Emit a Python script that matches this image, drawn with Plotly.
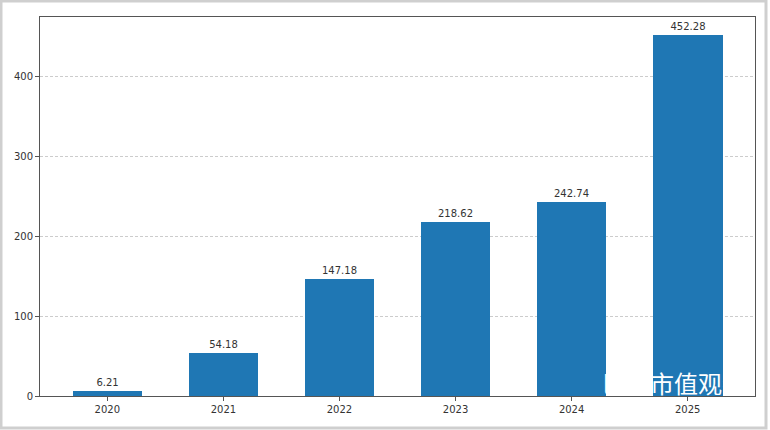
import plotly.graph_objects as go

years = ["2020", "2021", "2022", "2023", "2024", "2025"]
values = [6.21, 54.18, 147.18, 218.62, 242.74, 452.28]
value_labels = ["6.21", "54.18", "147.18", "218.62", "242.74", "452.28"]
y_ticks = [0, 100, 200, 300, 400]

fig = go.Figure()
fig.add_trace(go.Bar(
    x=list(range(len(years))), y=values, width=0.6,
    marker=dict(color="#1f77b4", line=dict(width=0)),
    text=value_labels, textposition="outside", cliponaxis=False,
    textfont=dict(size=10, color="#333333", family="DejaVu Sans"),
))

fig.update_layout(
    width=770, height=430,
    margin=dict(l=40, r=15, t=17, b=34),
    paper_bgcolor="white", plot_bgcolor="white",
    showlegend=False, bargap=0,
    font=dict(family="DejaVu Sans", size=10, color="#333333"),
    xaxis=dict(
        range=[-0.58, 5.58], tickmode="array",
        tickvals=list(range(len(years))), ticktext=years,
        ticks="outside", ticklen=4, tickcolor="#555555",
        showline=True, linecolor="#555555", linewidth=1, mirror=True,
        showgrid=False, zeroline=False, tickfont=dict(size=10),
        automargin=False,
    ),
    yaxis=dict(
        range=[0, 475], tickvals=y_ticks,
        ticks="outside", ticklen=4, tickcolor="#555555",
        showline=True, linecolor="#555555", linewidth=1, mirror=True,
        showgrid=True, gridcolor="#cccccc", griddash="3px,2px", gridwidth=1,
        zeroline=False, tickfont=dict(size=10), automargin=False,
    ),
    shapes=[dict(type="rect", xref="paper", yref="paper", x0=-39/715, x1=1+11/715,
                 y0=-32/379, y1=1+16/379, line=dict(color="#cfcfcf", width=3),
                 fillcolor="rgba(0,0,0,0)", layer="above")],
    annotations=[dict(text="巴适市值观察", xref="x", yref="y", x=4.88, y=0,
                      xanchor="center", yanchor="bottom", yshift=-6, showarrow=False,
                      font=dict(size=24, color="white", family="Noto Sans CJK SC"))],
)

fig.write_html("out.html", config={"displayModeBar": False},
               post_script="document.body.style.margin='0';")
